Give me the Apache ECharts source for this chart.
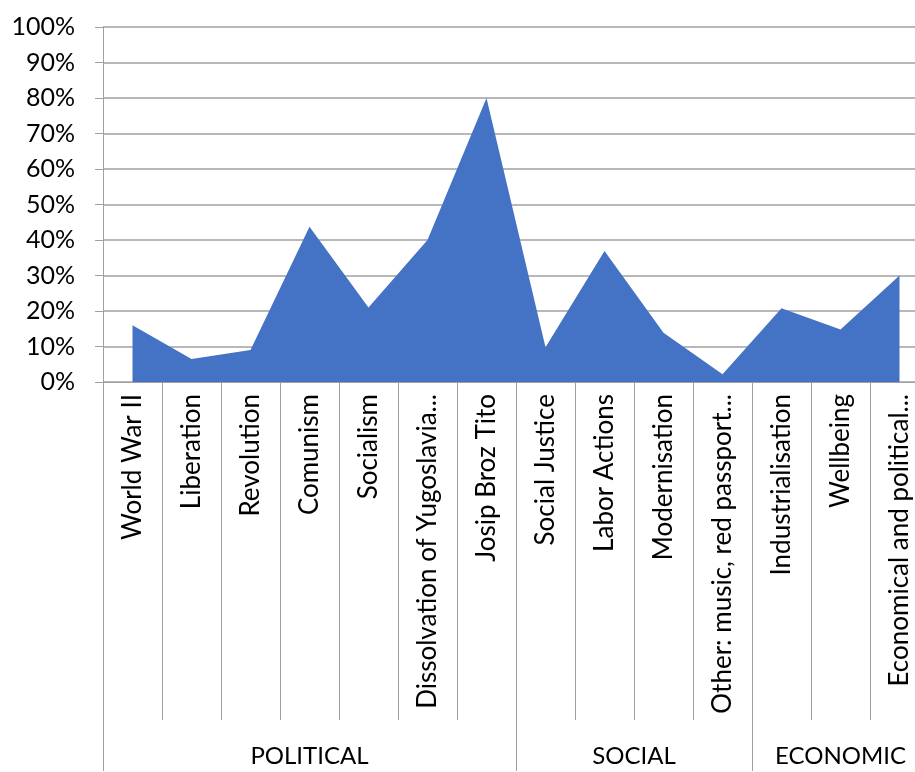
<!DOCTYPE html>
<html>
<head>
<meta charset="utf-8">
<script src="https://cdn.jsdelivr.net/npm/echarts@6/dist/echarts.min.js"></script>
<style>
  html, body { margin: 0; padding: 0; background: #fff; }
  #chart { width: 915px; height: 772px; }
</style>
</head>
<body>
<div id="chart"></div>
<script>
// Topics mentioned, share of respondents
const categories = [
  'World War II', 'Liberation', 'Revolution', 'Comunism', 'Socialism',
  'Dissolvation of Yugoslavia...', 'Josip Broz Tito', 'Social Justice',
  'Labor Actions', 'Modernisation', 'Other: music, red passport...',
  'Industrialisation', 'Wellbeing', 'Economical and political...'
];
const shares = [0.16, 0.065, 0.09, 0.437, 0.21, 0.40, 0.80, 0.098, 0.369, 0.139, 0.022, 0.208, 0.148, 0.30];

// Topic groups: name and number of categories in each
const groupNames = ['POLITICAL', 'SOCIAL', 'ECONOMIC'];
const groupSizes = [7, 4, 3];

const yTicks = [0, 0.1, 0.2, 0.3, 0.4, 0.5, 0.6, 0.7, 0.8, 0.9, 1.0];

// group boundaries and centres in category units
const groupEdges = [0];
groupSizes.forEach(n => groupEdges.push(groupEdges[groupEdges.length - 1] + n));
const groupCentres = groupNames.map((_, i) => (groupEdges[i] + groupEdges[i + 1]) / 2);

const FONT = 'Lato, "Open Sans", sans-serif';
const GREY = '#a0a0a0';

const chart = echarts.init(document.getElementById('chart'));
chart.setOption({
  animation: false,
  grid: { left: 103, top: 27, width: 826, height: 355, containLabel: false, outerBoundsMode: 'none' },
  xAxis: [
    {
      type: 'category',
      data: categories,
      boundaryGap: true,
      axisLine: { show: true, lineStyle: { color: GREY, width: 1 } },
      axisTick: { show: true, interval: 0, length: 338, lineStyle: { color: GREY, width: 1 } },
      axisLabel: {
        interval: 0, rotate: 90, margin: 12,
        color: '#000', fontFamily: FONT, fontSize: 26
      },
      splitLine: { show: false }
    },
    {
      type: 'value',
      position: 'bottom',
      min: 0,
      max: categories.length,
      axisLine: { show: false },
      axisTick: {
        show: true, length: 389, customValues: groupEdges,
        lineStyle: { color: GREY, width: 1 }
      },
      axisLabel: {
        show: true, customValues: groupCentres, margin: 362,
        color: '#000', fontFamily: FONT, fontSize: 24,
        formatter: v => groupNames[groupCentres.indexOf(v)] || ''
      },
      splitLine: { show: false }
    }
  ],
  yAxis: {
    type: 'value',
    min: yTicks[0],
    max: yTicks[yTicks.length - 1],
    interval: 0.1,
    axisLine: { show: true, lineStyle: { color: GREY, width: 1 } },
    axisTick: { show: true, length: 8, lineStyle: { color: GREY, width: 1 } },
    axisLabel: {
      margin: 28, color: '#000', fontFamily: FONT, fontSize: 25,
      formatter: v => Math.round(v * 100) + '%'
    },
    splitLine: { show: true, lineStyle: { color: GREY, width: 1.5 } }
  },
  series: [{
    type: 'line',
    xAxisIndex: 0,
    data: shares,
    showSymbol: false,
    lineStyle: { width: 0 },
    itemStyle: { color: '#4472C4' },
    areaStyle: { color: '#4472C4', opacity: 1 }
  }]
});
</script>
</body>
</html>
